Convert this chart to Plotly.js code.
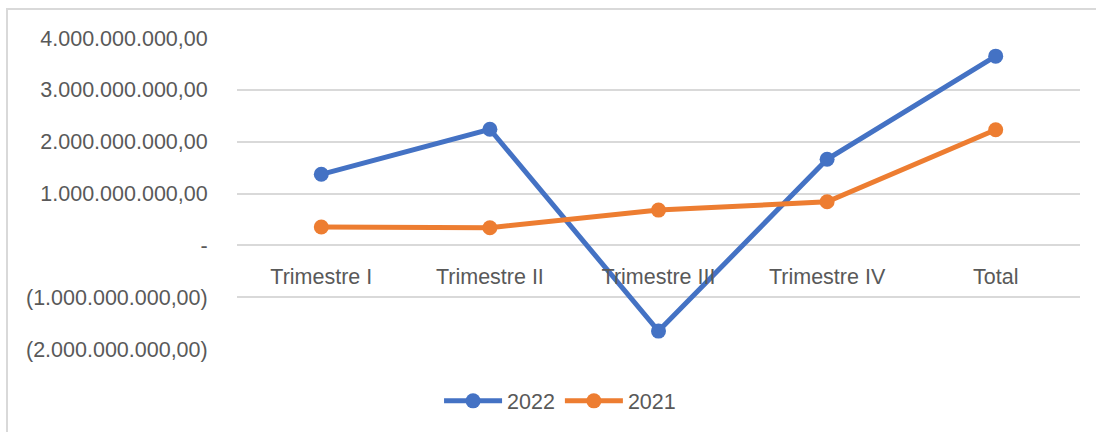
<!DOCTYPE html>
<html>
<head>
<meta charset="utf-8">
<script src="https://cdn.plot.ly/plotly-3.0.1.min.js"></script>
<style>
html,body{margin:0;padding:0;background:#fff;overflow:hidden;}
#frame{position:absolute;left:6px;top:8px;width:2000px;height:2000px;border-left:2px solid #d9d9d9;border-top:2px solid #d9d9d9;pointer-events:none;}
#chart{position:absolute;left:0;top:0;width:1096px;height:432px;}
</style>
</head>
<body>
<div id="chart"></div>
<div id="frame"></div>
<script>
const categories = ["Trimestre I", "Trimestre II", "Trimestre III", "Trimestre IV", "Total"];
const values2022 = [1370000000, 2240000000, -1655000000, 1660000000, 3650000000];
const values2021 = [355000000, 340000000, 680000000, 840000000, 2230000000];
const yTickVals = [-2000000000, -1000000000, 0, 1000000000, 2000000000, 3000000000, 4000000000];
const yTickText = ["(2.000.000.000,00)", "(1.000.000.000,00)", "-", "1.000.000.000,00", "2.000.000.000,00", "3.000.000.000,00", "4.000.000.000,00"];

const font = {family: "Liberation Sans, Arial, sans-serif", size: 21.5, color: "#595959"};

const traces = [
  {x: categories, y: values2022, name: "2022", type: "scatter", mode: "lines+markers",
   line: {color: "#4472C4", width: 5}, marker: {color: "#4472C4", size: 15}},
  {x: categories, y: values2021, name: "2021", type: "scatter", mode: "lines+markers",
   line: {color: "#ED7D31", width: 5}, marker: {color: "#ED7D31", size: 15}}
];

const layout = {
  width: 1096, height: 432,
  margin: {l: 237, r: 16, t: 38, b: 83, pad: 0},
  paper_bgcolor: "rgba(0,0,0,0)", plot_bgcolor: "#fff",
  font: font,
  showlegend: true,
  legend: {orientation: "h", xref: "container", yref: "container", x: 0.511, xanchor: "center",
           y: 0.072, yanchor: "middle", font: font, itemwidth: 58, traceorder: "normal"},
  xaxis: {type: "category", range: [-0.5, 4.5], anchor: "free", position: 1/3,
          showgrid: false, showline: false, zeroline: false, ticks: "outside", ticklen: 12, tickcolor: "rgba(0,0,0,0)",
          tickfont: font, fixedrange: true},
  yaxis: {range: [-2000000000, 4000000000], tickvals: yTickVals, ticktext: yTickText,
          showgrid: true, gridcolor: "#d9d9d9", gridwidth: 2, zeroline: false, showline: false,
          ticks: "outside", ticklen: 24, tickcolor: "rgba(0,0,0,0)", tickfont: font, fixedrange: true}
};

Plotly.newPlot("chart", traces, layout, {displayModeBar: false, staticPlot: true});
</script>
</body>
</html>
